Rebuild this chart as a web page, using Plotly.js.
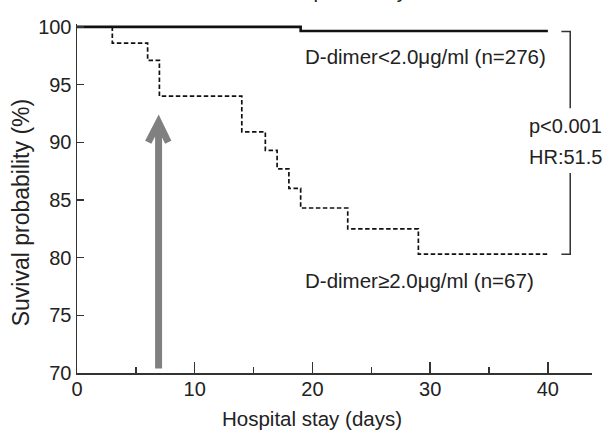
<!DOCTYPE html>
<html>
<head>
<meta charset="utf-8">
<script src="https://cdn.plot.ly/plotly-3.0.1.min.js"></script>
<style>html,body{margin:0;padding:0;background:#fff}#chart{width:611px;height:437px}</style>
</head>
<body>
<div id="chart"></div>
<script>
// ---- data ----
const lowDays  = [0, 19, 40];
const lowSurv  = [100, 99.64, 99.64];
const highDays = [0, 3, 6, 7, 14, 16, 17, 18, 19, 23, 29, 40];
const highSurv = [100, 98.6, 97.1, 94.0, 90.9, 89.3, 87.7, 86.0, 84.3, 82.5, 80.3, 80.3];
const xTicks = [0, 10, 20, 30, 40];
const yTicks = [70, 75, 80, 85, 90, 95, 100];
const lowLabel  = 'D-dimer<2.0μg/ml (n=276)';
const highLabel = 'D-dimer≥2.0μg/ml (n=67)';
const statLines = ['p<0.001', 'HR:51.5'];
const xTitle = 'Hospital stay (days)';
const yTitle = 'Suvival probability (%)';
const topTitle = 'Survival probability';
// annotation geometry (days, %)
const arrowDay = 6.93, arrowBase = 70.4, arrowTip = 91.73, arrowArmY = 90.0, arrowArmL = 6.05, arrowArmR = 7.75;
const bracketX = 41.9, bracketStub = 41.15, bracketTop = 99.6, bracketGapTop = 92.95, bracketGapBot = 87.34, bracketBot = 80.3;

const FONT = 'Liberation Sans, Arial, sans-serif';
const TXT = '#222';
const AX = '#333';

const traces = [
  {x: lowDays, y: lowSurv, mode: 'lines', line: {shape: 'hv', color: '#111', width: 2.6}, cliponaxis: false, hoverinfo: 'skip'},
  {x: highDays, y: highSurv, mode: 'lines', line: {shape: 'hv', color: '#111', width: 1.7, dash: '4.5px,2.5px'}, cliponaxis: false, hoverinfo: 'skip'}
];

const layout = {
  width: 611, height: 437,
  margin: {l: 77, r: 19, t: 24, b: 64, pad: 0},
  paper_bgcolor: '#fff', plot_bgcolor: '#fff',
  showlegend: false,
  font: {family: FONT, size: 20, color: TXT},
  xaxis: {
    range: [0, 43.75], tickvals: xTicks, ticktext: xTicks.map(String),
    ticks: 'inside', ticklen: 11, tickwidth: 1.5, tickcolor: AX,
    showline: true, linecolor: AX, linewidth: 1.5, showgrid: false, zeroline: false,
    tickfont: {family: FONT, size: 20, color: TXT},
    ticklabelstandoff: -3,
    minor: {dtick: 5, tick0: 0, ticks: 'inside', ticklen: 6, tickwidth: 1.5, tickcolor: AX, showgrid: false},
    fixedrange: true
  },
  yaxis: {
    range: [70, 100.25], tickvals: yTicks, ticktext: yTicks.map(String),
    ticks: 'inside', ticklen: 7, tickwidth: 1.5, tickcolor: AX,
    showline: true, linecolor: AX, linewidth: 1.5, showgrid: false, zeroline: false,
    tickfont: {family: FONT, size: 20, color: TXT},
    fixedrange: true
  },
  shapes: [
    {type: 'line', xref: 'x', yref: 'y', x0: arrowDay, x1: arrowDay, y0: arrowBase, y1: arrowTip - 0.4, line: {color: '#808080', width: 7}},
    {type: 'path', xref: 'x', yref: 'y', path: `M ${arrowArmL} ${arrowArmY} L ${arrowDay} ${arrowTip} L ${arrowArmR} ${arrowArmY}`, line: {color: '#808080', width: 7}},
    {type: 'path', xref: 'x', yref: 'y', path: `M ${bracketStub} ${bracketTop} L ${bracketX} ${bracketTop} L ${bracketX} ${bracketGapTop}`, line: {color: AX, width: 1.5}},
    {type: 'path', xref: 'x', yref: 'y', path: `M ${bracketX} ${bracketGapBot} L ${bracketX} ${bracketBot} L ${bracketStub} ${bracketBot}`, line: {color: AX, width: 1.5}}
  ],
  annotations: [
    {text: lowLabel, xref: 'x', yref: 'y', x: 19.2, y: 97.4, xanchor: 'left', yanchor: 'middle', showarrow: false, font: {family: FONT, size: 20.5, color: TXT}},
    {text: highLabel, xref: 'x', yref: 'y', x: 19.2, y: 78.0, xanchor: 'left', yanchor: 'middle', showarrow: false, font: {family: FONT, size: 20.5, color: TXT}},
    {text: statLines[0], xref: 'x', yref: 'y', x: 41.5, y: 91.45, xanchor: 'center', yanchor: 'middle', showarrow: false, font: {family: FONT, size: 20, color: TXT}},
    {text: statLines[1], xref: 'x', yref: 'y', x: 41.5, y: 88.7, xanchor: 'center', yanchor: 'middle', showarrow: false, font: {family: FONT, size: 20, color: TXT}},
    {text: xTitle, xref: 'x', yref: 'paper', x: 20, y: -0.13, xanchor: 'center', yanchor: 'middle', showarrow: false, font: {family: FONT, size: 20.5, color: TXT}},
    {text: yTitle, xref: 'paper', yref: 'paper', x: -0.107, y: 0.46, xanchor: 'center', yanchor: 'middle', textangle: -90, showarrow: false, font: {family: FONT, size: 23, color: TXT}},
    {text: topTitle, xref: 'paper', yref: 'paper', x: 0.474, y: 1.096, xanchor: 'center', yanchor: 'middle', showarrow: false, font: {family: FONT, size: 20.5, color: TXT}}
  ]
};

Plotly.newPlot('chart', traces, layout, {staticPlot: true, displayModeBar: false});
</script>
</body>
</html>
